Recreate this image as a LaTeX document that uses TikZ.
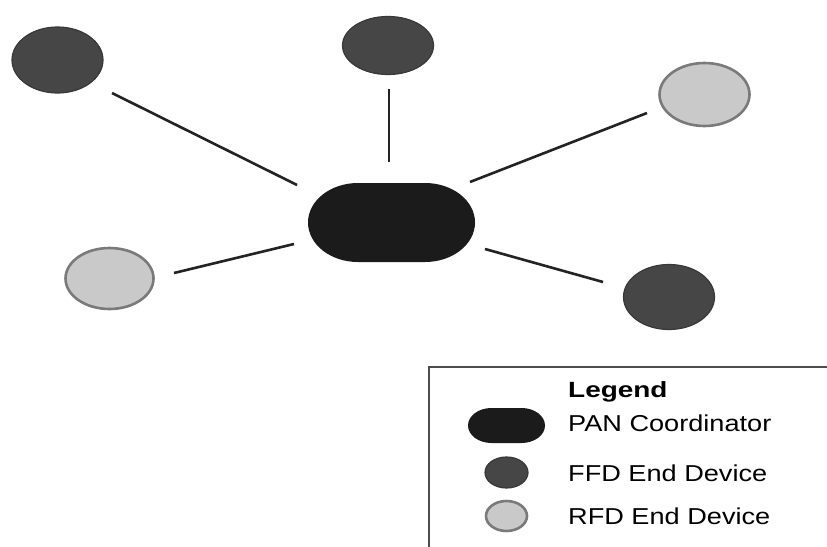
\documentclass[tikz,border=0pt]{standalone}
\usepackage{fontspec}
\setmainfont{Liberation Sans}
\usetikzlibrary{shapes.geometric}

\definecolor{ffdfill}{HTML}{464646}
\definecolor{ffdline}{HTML}{383838}
\definecolor{rfdfill}{HTML}{C9C9C9}
\definecolor{rfdline}{HTML}{7A7A7A}
\definecolor{panfill}{HTML}{1B1B1B}
\definecolor{linkcol}{HTML}{232323}

\tikzset{
  ffd/.style={ellipse, fill=ffdfill, draw=ffdline, line width=1.2pt, inner sep=0pt},
  rfd/.style={ellipse, fill=rfdfill, draw=rfdline, line width=2.6pt, inner sep=0pt},
  link/.style={draw=linkcol, line width=2.6pt},
  frame/.style={draw=black!70, line width=1.4pt},
  legtext/.style={anchor=base west, inner sep=0pt, font=\fontsize{23}{27}\selectfont},
}

% stadium shape around a node: node name, half flat length, x radius, y radius
\newcommand{\stadium}[4]{%
  \fill[panfill] ([xshift=-#2 pt, yshift=#4 pt]#1.center) -- ++(2*#2,0)
    arc[start angle=-90, end angle=90, x radius=#3, y radius=#4]
    -- ++(-2*#2,0)
    arc[start angle=90, end angle=270, x radius=#3, y radius=#4] -- cycle;}

\begin{document}
\begin{tikzpicture}[x=1pt, y=-1pt]
\useasboundingbox (0,0) rectangle (827,546);
\fill[white] (0,0) rectangle (827,546);

% end devices
\node[ffd, minimum width=91, minimum height=66] (d1) at (57.5,60) {};
\node[ffd, minimum width=91, minimum height=58] (d2) at (388,45.5) {};
\node[rfd, minimum width=90, minimum height=63] (d3) at (704.5,94.5) {};
\node[rfd, minimum width=88, minimum height=61] (d4) at (109.5,278.5) {};
\node[ffd, minimum width=91, minimum height=65] (d5) at (669,297) {};

% PAN coordinator
\node[minimum width=167, minimum height=79, inner sep=0pt] (pan) at (391.5,222.5) {};
\stadium{pan}{33.5}{50}{39.5}

% links (drawn with a gap to the devices)
\coordinate (a1) at (112,93);   \coordinate (b1) at (297,185);
\coordinate (a2) at (389,89);   \coordinate (b2) at (389,162);
\coordinate (a3) at (647,113);  \coordinate (b3) at (470,182);
\coordinate (a4) at (174,273);  \coordinate (b4) at (294,244);
\coordinate (a5) at (603,282);  \coordinate (b5) at (485,249);
\draw[link] (a1) -- (b1);
\draw[link] (a2) -- (b2);
\draw[link] (a3) -- (b3);
\draw[link] (a4) -- (b4);
\draw[link] (a5) -- (b5);

% legend
\draw[frame] (429,560) -- (429,367) -- (840,367);
\node[legtext, font=\fontsize{22}{26}\selectfont\bfseries] (lghead) at (568,397) {\scalebox{1.27}[1]{Legend}};
\node[minimum width=77, minimum height=35, inner sep=0pt] (lgpan) at (506.5,425.5) {};
\stadium{lgpan}{15}{23.5}{17.5}
\node[legtext] (lgpantxt) at (568,431) {\scalebox{1.18}[1]{PAN Coordinator}};
\node[ffd, minimum width=43, minimum height=31] (lgffd) at (506.5,472.5) {};
\node[legtext] (lgffdtxt) at (568,481) {\scalebox{1.18}[1]{FFD End Device}};
\node[rfd, minimum width=41, minimum height=30] (lgrfd) at (506.5,516) {};
\node[legtext] (lgrfdtxt) at (568,524) {\scalebox{1.18}[1]{RFD End Device}};
\end{tikzpicture}
\end{document}
